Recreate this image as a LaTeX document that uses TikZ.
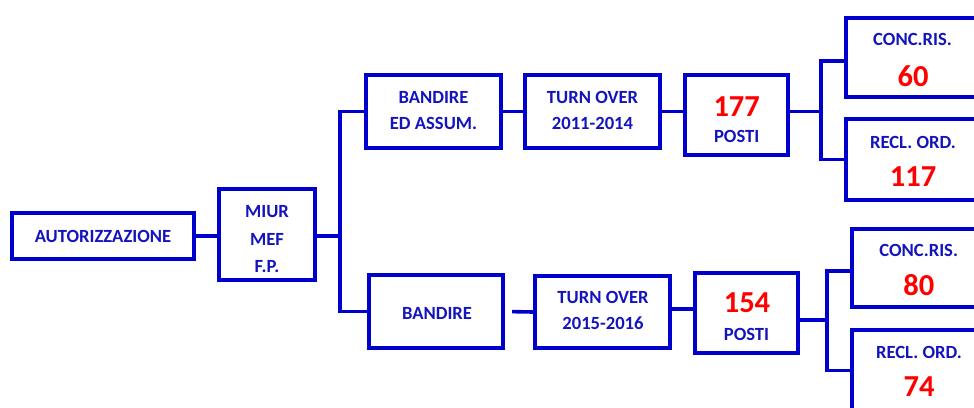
\documentclass[tikz,border=0pt]{standalone}
\usepackage{fontspec}
\setmainfont{Carlito}
\usetikzlibrary{calc}
\definecolor{bl}{RGB}{0,0,204}
\definecolor{tb}{RGB}{20,20,190}
\definecolor{rd}{RGB}{255,0,0}
\tikzset{
 box/.style={draw=bl, line width=3.6pt, inner sep=0pt},
 conn/.style={draw=bl, line width=3.6pt},
 lbl/.style={text=tb, font=\bfseries\fontsize{18.6}{22}\selectfont, inner sep=0pt},
 num/.style={text=rd, font=\bfseries\fontsize{30.5}{36}\selectfont, inner sep=0pt},
}
\begin{document}
\begin{tikzpicture}[x=1pt,y=-1pt]
\useasboundingbox (0,0) rectangle (974,407);
\clip (0,0) rectangle (974,407);
\fill[white] (0,0) rectangle (974,407);
% boxes
\node[box, minimum width=182.5pt, minimum height=46.5pt] (auto) at (103,236) {};
\node[box, minimum width=96.5pt, minimum height=91.5pt] (miur) at (267,234.5) {};
\node[box, minimum width=135.5pt, minimum height=73.5pt] (band1) at (433.5,111.5) {};
\node[box, minimum width=135.5pt, minimum height=73.5pt] (turn1) at (592.5,111.5) {};
\node[box, minimum width=103.5pt, minimum height=80.5pt] (p1) at (736.5,115) {};
\node[box, minimum width=132.5pt, minimum height=79.5pt] (c1) at (912,57.5) {};
\node[box, minimum width=132.5pt, minimum height=81.5pt] (r1) at (912,159.5) {};
\node[box, minimum width=134.5pt, minimum height=73.5pt] (band2) at (436,311.5) {};
\node[box, minimum width=135.5pt, minimum height=72.5pt] (turn2) at (602.5,312) {};
\node[box, minimum width=103.5pt, minimum height=80.5pt] (p2) at (746.5,313) {};
\node[box, minimum width=134.5pt, minimum height=78.5pt] (c2) at (919,268) {};
\node[box, minimum width=134.5pt, minimum height=81.5pt] (r2) at (919,370.5) {};
% texts
\node[lbl] (autot) at (103,236) {AUTORIZZAZIONE};
\node[lbl] (miurt) at (267,212) {MIUR};
\node[lbl] (meft) at (267,239) {MEF};
\node[lbl] (fpt) at (267,267) {F.P.};
\node[lbl] (band1a) at (433.5,97) {BANDIRE};
\node[lbl] (band1b) at (433.5,123.5) {ED ASSUM.};
\node[lbl] (turn1a) at (592.5,97) {TURN OVER};
\node[lbl] (turn1b) at (592.5,123) {2011-2014};
\node[num] (p1n) at (736.7,107) {177};
\node[lbl] (p1t) at (736.7,136) {POSTI};
\node[lbl] (c1t) at (912.5,39) {CONC.RIS.};
\node[num] (c1n) at (913,76) {60};
\node[lbl] (r1t) at (913,142) {RECL. ORD.};
\node[num] (r1n) at (913,177) {117};
\node[lbl] (band2t) at (437,313) {BANDIRE};
\node[lbl] (turn2a) at (603,297) {TURN OVER};
\node[lbl] (turn2b) at (603,323) {2015-2016};
\node[num] (p2n) at (747,303) {154};
\node[lbl] (p2t) at (746.5,334) {POSTI};
\node[lbl] (c2t) at (918.7,250) {CONC.RIS.};
\node[num] (c2n) at (918.8,285) {80};
\node[lbl] (r2t) at (919,352) {RECL. ORD.};
\node[num] (r2n) at (919,387) {74};
% junction coordinates
\coordinate (tr) at (340,0);
\coordinate (f1) at (821,0);
\coordinate (f2) at (827,0);
% connectors
\draw[conn] (auto.east) -- (auto.east -| miur.west);
\draw[conn] (auto.east -| miur.east) -- (auto.east -| tr);
\draw[conn] (band1.west) -- (band1.west -| tr) -- (band2.west -| tr) -- (band2.west);
\draw[conn] (band1.east) -- (turn1.west);
\draw[conn] (turn1.east) -- (turn1.east -| p1.west);
\draw[conn] (turn1.east -| p1.east) -- (turn1.east -| f1);
\draw[conn] ([yshift=-3.5pt]c1.west) -- ([yshift=-3.5pt]c1.west -| f1) -- (r1.west -| f1) -- (r1.west);
\draw[conn, shorten <=7pt] (band2.east) -- (turn2.west);
\draw[conn] ([yshift=3pt]turn2.east) -- ([yshift=3pt]turn2.east -| p2.west);
\draw[conn] ([yshift=-7pt]p2.east) -- ([yshift=-7pt]p2.east -| f2);
\draw[conn] ([yshift=-3pt]c2.west) -- ([yshift=-3pt]c2.west -| f2) -- (r2.west -| f2) -- (r2.west);
\end{tikzpicture}
\end{document}
